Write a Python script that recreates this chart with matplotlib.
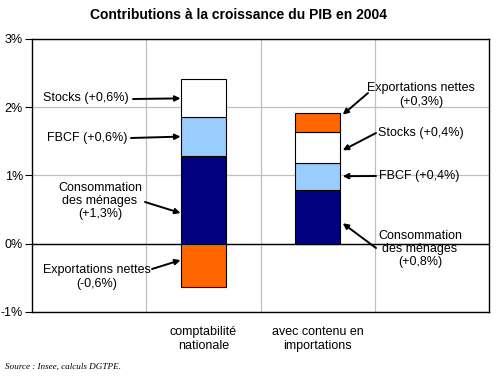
import matplotlib
matplotlib.use("Agg")
import matplotlib.pyplot as plt
import numpy as np

# ---- data ----
categories = ["", "comptabilité\nnationale", "avec contenu en\nimportations", ""]
consommation = [1.29, 0.79]
fbcf = [0.56, 0.40]
stocks = [0.56, 0.45]
exportations = [-0.64, 0.28]
yticks = [-1, 0, 1, 2, 3]
ytick_labels = ["-1%", "0%", "1%", "2%", "3%"]

labels_bar1 = ["Stocks (+0,6%)", "FBCF (+0,6%)", "Consommation\ndes ménages\n(+1,3%)",
               "Exportations nettes\n(-0,6%)"]
labels_bar2 = ["Exportations nettes\n(+0,3%)", "Stocks (+0,4%)", "FBCF (+0,4%)",
               "Consommation\ndes ménages\n(+0,8%)"]

c_cons = "#000080"
c_fbcf = "#99CCFF"
c_stk = "#FFFFFF"
c_exp = "#FF6600"

W, H = 501, 379
plt.rcParams['font.family'] = ['Liberation Sans', 'DejaVu Sans']
fig = plt.figure(figsize=(W / 100, H / 100), dpi=100)
ax = fig.add_axes([32 / W, 1 - 312 / H, (489 - 32) / W, (312 - 39) / H])

xpos = np.array([1, 2])
bw = 0.4
cons = np.array(consommation)
fb = np.array(fbcf)
st = np.array(stocks)
ex = np.array(exportations)

ax.bar(xpos, cons, bw, color=c_cons, edgecolor="black", linewidth=0.8, zorder=3)
ax.bar(xpos, fb, bw, bottom=cons, color=c_fbcf, edgecolor="black", linewidth=0.8, zorder=3)
ax.bar(xpos, st, bw, bottom=cons + fb, color=c_stk, edgecolor="black", linewidth=0.8, zorder=3)
ex_bottom = np.where(ex < 0, 0, cons + fb + st)
ax.bar(xpos, ex, bw, bottom=ex_bottom, color=c_exp, edgecolor="black", linewidth=0.8, zorder=3)

ax.set_xlim(-0.5, 3.5)
ax.set_ylim(-1, 3)
ax.set_yticks(yticks)
ax.set_yticklabels(ytick_labels, fontsize=9)
ax.set_xticks([0.5, 1.5, 2.5], minor=False)
ax.set_xticklabels([])
ax.tick_params(axis="x", length=0)
ax.tick_params(axis="y", length=5, width=0.8, pad=1.5)
ax.grid(True, color="#C0C0C0", linewidth=0.9, zorder=0)
ax.axhline(0, color="black", linewidth=1, zorder=2)
for s in ax.spines.values():
    s.set_linewidth(1)

for i, c in enumerate(categories):
    if c:
        ax.text(i, -1.2, c, ha="center", va="top", fontsize=9, linespacing=1.25,
                transform=ax.transData, clip_on=False)

fig.text(0.5 * (90 + 388) / W, 1 - 15 / H, "Contributions à la croissance du PIB en 2004",
         ha="center", va="center", fontsize=10, fontweight="bold")
fig.text(5 / W, 1 - 367 / H, "Source : Insee, calculs DGTPE.", ha="left", va="center",
         fontsize=6.6, fontstyle="italic", family="Liberation Serif")


def px(x, y):
    return (x / W, 1 - y / H)


arrow = dict(arrowstyle="-|>", color="black", lw=1.4, mutation_scale=8, shrinkA=0, shrinkB=0)

left1 = xpos[0] - bw / 2
right2 = xpos[1] + bw / 2 + 0.02

ann1 = [
    (labels_bar1[0], (86, 98), (133, 99), cons[0] + fb[0] + st[0] / 2),
    (labels_bar1[1], (87, 138), (131, 138), cons[0] + fb[0] / 2),
    (labels_bar1[2], (100, 201), (145, 202), 0.45),
    (labels_bar1[3], (97, 277), (152, 269), -0.24),
]
for lab, tc, tail, ty in ann1:
    fig.text(*px(*tc), lab, ha="center", va="center", fontsize=9, linespacing=1.15)
    ax.annotate("", xy=(left1, ty), xycoords="data", xytext=px(*tail),
                textcoords="figure fraction", arrowprops=arrow, zorder=5)

ann2 = [
    (labels_bar2[0], (421, 95), (368, 93), cons[1] + fb[1] + st[1] + ex[1] * 0.9),
    (labels_bar2[1], (421, 133), (376, 133), cons[1] + fb[1] + st[1] * 0.4),
    (labels_bar2[2], (419, 176), (376, 176), cons[1] + fb[1] / 2),
    (labels_bar2[3], (420, 249), (376, 248), 0.30),
]
for lab, tc, tail, ty in ann2:
    fig.text(*px(*tc), lab, ha="center", va="center", fontsize=9, linespacing=1.15)
    ax.annotate("", xy=(right2, ty), xycoords="data", xytext=px(*tail),
                textcoords="figure fraction", arrowprops=arrow, zorder=5)

fig.savefig("out.png", dpi=100)
